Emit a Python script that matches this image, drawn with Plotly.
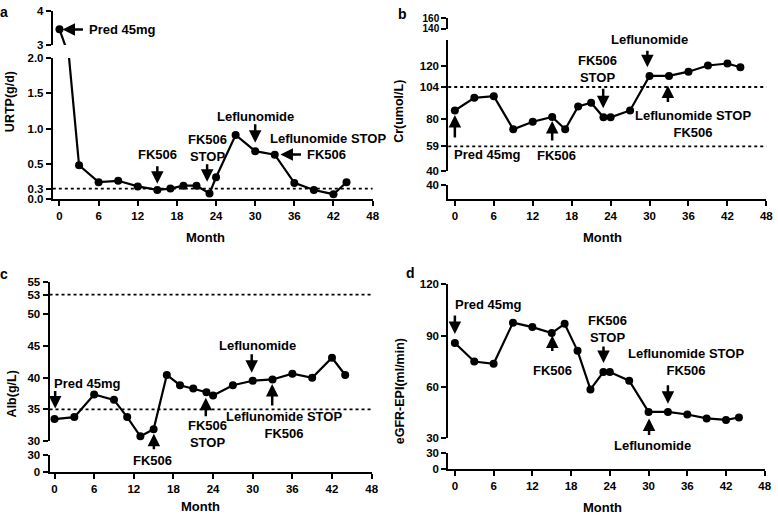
import plotly.graph_objects as go

W, H = 778, 518
FONT = "Liberation Sans, Arial, sans-serif"

# ---------------- data ----------------
month_ticks = [0, 6, 12, 18, 24, 30, 36, 42, 48]

urtp_month = [0, 3, 6, 9, 12, 15, 17, 19, 21, 23, 24, 27, 30, 33, 36, 39, 42, 44]
urtp_value = [3.46, 0.48, 0.24, 0.26, 0.18, 0.13, 0.15, 0.19, 0.19, 0.08, 0.31,
              0.91, 0.68, 0.63, 0.23, 0.13, 0.07, 0.24]

cr_month = [0, 3, 6, 9, 12, 15, 17, 19, 21, 22.9, 24, 27, 30, 33, 36, 39, 42, 44]
cr_value = [86.2, 95.8, 97.0, 71.9, 77.6, 81.3, 71.9, 89.2, 92.1, 81.0, 81.0,
            86.2, 112.4, 112.4, 115.6, 120.3, 121.8, 119.0]

alb_month = [0, 3, 6, 9, 11, 13, 15, 17, 19, 21, 23, 24, 27, 30, 33, 36, 39, 42, 44]
alb_value = [33.5, 33.8, 37.35, 36.5, 33.8, 30.8, 31.9, 40.4, 38.8, 38.3, 37.7,
             37.2, 38.8, 39.5, 39.7, 40.6, 39.95, 43.1, 40.4]

egfr_month = [0, 3, 6, 9, 12, 15, 17, 19, 21, 23, 24, 27, 30, 33, 36, 39, 42, 44]
egfr_value = [85.7, 74.8, 73.5, 97.6, 95.0, 91.5, 96.9, 81.1, 58.5, 68.7, 68.7,
              63.6, 45.3, 45.3, 43.8, 41.5, 40.6, 42.1]

# tick labels
urtp_low_tickvals = [0, 0.15, 0.5, 1.0, 1.5, 2.0]
urtp_low_ticktext = ["0.0", "0.3", "0.5", "1.0", "1.5", "2.0"]
urtp_high_tickvals = [3, 4]
cr_main_tickvals = [40, 59, 80, 104, 120]
cr_high_tickvals = [140, 160]
cr_low_tickvals = [40]
alb_main_tickvals = [30, 35, 40, 45, 50, 53, 55]
alb_low_tickvals = [0, 30]
egfr_main_tickvals = [30, 60, 90, 120]
egfr_low_tickvals = [0, 30]

# reference (dotted) lines
urtp_ref = [0.15]
cr_ref = [104, 59]
alb_ref = [53, 35]

# ---------------- helpers ----------------
def xdom(l, r):
    return [l / W, r / W]

def ydom(top, bottom):
    return [1 - bottom / H, 1 - top / H]

tickfont = dict(family=FONT, size=11.5, color="black", weight="bold")

def axis(**kw):
    d = dict(showline=True, linecolor="black", linewidth=2, ticks="outside",
             ticklen=5, tickwidth=2, tickcolor="black", showgrid=False,
             zeroline=False, tickfont=tickfont, fixedrange=True)
    d.update(kw)
    return d

fig = go.Figure()

line_style = dict(color="black", width=2.2)
marker_style = dict(color="black", size=8)

def add_series(xs, ys, xa, ya):
    fig.add_trace(go.Scatter(x=xs, y=ys, xaxis=xa, yaxis=ya, mode="lines+markers",
                             line=line_style, marker=marker_style, showlegend=False,
                             hoverinfo="skip"))

def add_empty(xa, ya):
    # empty trace so the broken-axis segment subplot exists
    fig.add_trace(go.Scatter(x=[None], y=[None], xaxis=xa, yaxis=ya, mode="markers",
                             showlegend=False, hoverinfo="skip"))

add_series(urtp_month, urtp_value, "x", "y")
add_series(urtp_month, urtp_value, "x", "y2")
add_series(cr_month, cr_value, "x2", "y4")
add_empty("x2", "y3")
add_empty("x2", "y5")
add_series(alb_month, alb_value, "x3", "y7")
add_empty("x3", "y6")
add_series(egfr_month, egfr_value, "x4", "y9")
add_empty("x4", "y8")

small_tickfont = dict(tickfont)
small_tickfont["size"] = 10

fig.update_layout(
    width=W, height=H, margin=dict(l=0, r=0, t=0, b=0),
    paper_bgcolor="white", plot_bgcolor="white",
    font=dict(family=FONT, color="black"),
    showlegend=False,
    # panel a
    xaxis=axis(domain=xdom(53.3, 376), range=[-1.02, 48], tickvals=month_ticks, anchor="y"),
    yaxis=axis(domain=ydom(53.3, 197.7), range=[0, 2], tickvals=urtp_low_tickvals,
               ticktext=urtp_low_ticktext, anchor="x"),
    yaxis2=axis(domain=ydom(5, 40), range=[3, 4], tickvals=urtp_high_tickvals, anchor="x"),
    # panel b
    xaxis2=axis(domain=xdom(452.3, 773.3), range=[-1.02, 48], tickvals=month_ticks, anchor="y3"),
    yaxis3=axis(domain=ydom(183.3, 197.7), range=[0, 40], tickvals=cr_low_tickvals, anchor="x2"),
    yaxis4=axis(domain=ydom(34.3, 169.3), range=[40, 140], tickvals=cr_main_tickvals, anchor="x2"),
    yaxis5=axis(domain=ydom(12.5, 23.5), range=[140, 160], tickvals=cr_high_tickvals,
                anchor="x2", tickfont=small_tickfont),
    # panel c
    xaxis3=axis(domain=xdom(50, 375), range=[-0.75, 48], tickvals=month_ticks, anchor="y6"),
    yaxis6=axis(domain=ydom(459.3, 477), range=[0, 30], tickvals=alb_low_tickvals, anchor="x3"),
    yaxis7=axis(domain=ydom(282.3, 445.7), range=[30, 55], tickvals=alb_main_tickvals, anchor="x3"),
    # panel d
    xaxis4=axis(domain=xdom(452.3, 771.7), range=[-1.03, 48], tickvals=month_ticks, anchor="y8"),
    yaxis8=axis(domain=ydom(457.3, 474), range=[0, 30], tickvals=egfr_low_tickvals, anchor="x4"),
    yaxis9=axis(domain=ydom(285, 442.3), range=[30, 120], tickvals=egfr_main_tickvals, anchor="x4"),
)

# dotted reference lines
def hline(xa, ya, val):
    fig.add_shape(type="line", xref=f"{xa} domain", yref=ya, x0=0, x1=1, y0=val, y1=val,
                  line=dict(color="black", width=1.8, dash="dot"))

for v in urtp_ref:
    hline("x", "y", v)
for v in cr_ref:
    hline("x2", "y4", v)
for v in alb_ref:
    hline("x3", "y7", v)

ann = []
ANN_FONT = dict(family=FONT, size=13, color="black", weight="bold")

def arrow(xa, ya, x, y, ax, ay):
    ann.append(dict(xref=xa, yref=ya, x=x, y=y, ax=ax, ay=ay, axref="pixel", ayref="pixel",
                    text="", showarrow=True, arrowhead=2, arrowsize=1, arrowwidth=2.5,
                    arrowcolor="black", standoff=0, startstandoff=0))

def text_px(px, py, text, size=13, angle=0, xanchor="center"):
    f = dict(ANN_FONT)
    f["size"] = size
    ann.append(dict(xref="paper", yref="paper", x=px / W, y=1 - py / H, text=text,
                    showarrow=False, xanchor=xanchor, yanchor="middle", font=f,
                    textangle=angle))

# ---- panel a annotations
arrow("x", "y2", 0.46, 3.457, 22, 0)
text_px(88, 24, "Pred 45mg", xanchor="left")
arrow("x", "y", 15, 0.217, 0, -19)
text_px(159, 152, "FK506")
arrow("x", "y", 22.63, 0.245, 0, -19)
text_px(209, 145, "FK506<br>STOP")
arrow("x", "y", 30, 0.80, 0, -20)
text_px(258, 113, "Leflunomide")
text_px(331, 136, "Leflunomide STOP")
text_px(329, 152, "FK506")
arrow("x", "y", 33.87, 0.633, 22, 0)

# ---- panel b annotations
arrow("x2", "y4", 0, 82.7, 0, 24)
text_px(456, 152.3, "Pred 45mg", xanchor="left")
arrow("x2", "y4", 15, 78.3, 0, 21)
text_px(562, 153, "FK506")
arrow("x2", "y4", 22.86, 87.9, 0, -21)
text_px(603, 65, "FK506<br>STOP")
arrow("x2", "y4", 29.67, 119, 0, -18)
text_px(655.7, 34.3, "Leflunomide")
arrow("x2", "y4", 32.83, 105.2, 0, 18)
text_px(699, 120.3, "Leflunomide STOP<br>FK506")

# ---- panel c annotations
text_px(52.3, 386.7, "Pred 45mg", xanchor="left")
arrow("x3", "y7", 0.1, 35.15, 0, -19)
arrow("x3", "y7", 15.04, 31.18, 0, 17)
text_px(153.7, 465.7, "FK506")
arrow("x3", "y7", 22.9, 36.83, 0, 20)
text_px(209.3, 437.8, "FK506<br>STOP")
text_px(260, 347.7, "Leflunomide")
arrow("x3", "y7", 29.85, 40.76, 0, -20)
arrow("x3", "y7", 32.95, 38.98, 0, 23)
text_px(287, 428.7, "Leflunomide STOP<br>FK506")

# ---- panel d annotations
text_px(456.7, 305.7, "Pred 45mg", xanchor="left")
arrow("x4", "y9", 0, 91.0, 0, -20)
arrow("x4", "y9", 15.09, 90.0, 0, 17)
text_px(557.7, 373.3, "FK506")
text_px(612.7, 330.5, "FK506<br>STOP")
arrow("x4", "y9", 23.02, 73.9, 0, -18)
text_px(692.5, 364.5, "Leflunomide STOP<br>FK506")
arrow("x4", "y9", 33.0, 50.1, 0, -20)
arrow("x4", "y9", 30.08, 41.5, 0, 18)
text_px(658.3, 450, "Leflunomide")

# ---- axis titles and panel letters
text_px(207.5, 237, "Month", 13)
text_px(608, 237, "Month", 13)
text_px(202.5, 512, "Month", 13)
text_px(608, 513, "Month", 13)
text_px(10, 97.5, "URTP(g/d)", 12.5, -90)
text_px(403, 108, "Cr(umol/L)", 12.5, -90)
text_px(12, 396.7, "Alb(g/L)", 12.5, -90)
text_px(403, 394, "eGFR-EPI(ml/min)", 12.5, -90)
text_px(4, 6, "a", 14)
text_px(406, 8, "b", 14)
text_px(4, 274, "c", 14)
text_px(414, 273, "d", 14)

fig.update_layout(annotations=ann)

fig.write_html("out.html", config={"displayModeBar": False},
               post_script="document.body.style.margin='0px';")
